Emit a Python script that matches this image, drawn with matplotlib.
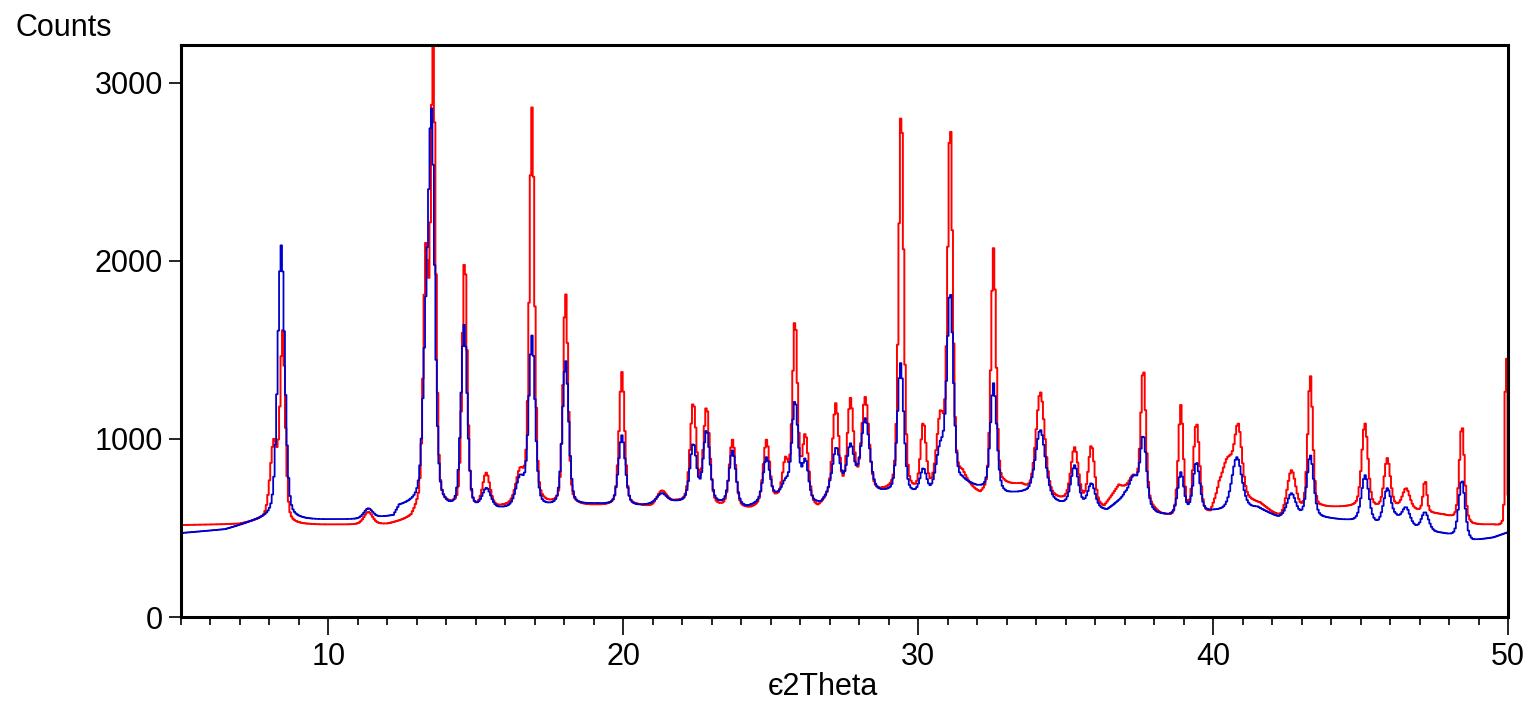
import numpy as np
import matplotlib
matplotlib.use("Agg")
import matplotlib.pyplot as plt

plt.rcParams['font.family'] = ['Liberation Sans', 'DejaVu Sans']

# peaks: position (deg 2theta), top (counts), fwhm (deg)
red_pos = [8.15, 8.45, 11.35, 13.3, 13.55, 14.62, 15.35, 16.5, 16.9, 18.04,
           19.95, 21.3, 22.37, 22.82, 23.7, 24.85, 25.5, 25.82, 26.17, 27.2,
           27.7, 28.2, 29.42, 30.17, 30.75, 31.08, 31.5, 32.55, 34.14, 35.3,
           35.87, 37.3, 37.63, 38.9, 39.43, 40.5, 40.85, 42.65, 43.29, 45.14,
           45.9, 46.54, 47.18, 48.43, 49.93]
red_top = [1000, 1610, 590, 2100, 3250, 2020, 810, 840, 2860, 1820,
           1375, 710, 1205, 1180, 995, 995, 900, 1680, 1030, 1200,
           1230, 1235, 2865, 1095, 1160, 2790, 830, 2070, 1262, 953,
           964, 800, 1400, 1190, 1090, 900, 1085, 824, 1357, 1088,
           892, 723, 768, 1077, 1650]
red_fwhm = [0.3, 0.2, 0.35, 0.2, 0.2, 0.2, 0.3, 0.35, 0.2, 0.2,
            0.22, 0.4, 0.25, 0.25, 0.25, 0.25, 0.25, 0.2, 0.25, 0.25,
            0.25, 0.3, 0.2, 0.22, 0.3, 0.2, 0.35, 0.2, 0.35, 0.3,
            0.25, 0.35, 0.2, 0.2, 0.25, 0.45, 0.3, 0.35, 0.2, 0.25,
            0.25, 0.3, 0.15, 0.2, 0.08]

blue_pos = [8.4, 11.35, 13.3, 13.5, 14.6, 15.36, 16.5, 16.9, 18.04, 19.95,
            21.3, 22.37, 22.82, 23.7, 24.85, 25.5, 25.82, 26.17, 27.22, 27.7,
            28.2, 29.4, 30.17, 30.75, 31.08, 32.55, 34.14, 35.3, 35.87, 37.3,
            37.63, 38.9, 39.43, 40.8, 42.65, 43.29, 45.15, 45.9, 46.54, 47.18,
            48.43]
blue_top = [2086, 610, 1800, 2855, 1640, 725, 800, 1580, 1440, 1020,
            695, 975, 1050, 935, 897, 780, 1217, 890, 953, 975,
            1116, 1425, 836, 990, 1833, 1312, 1050, 852, 751, 796,
            1021, 813, 869, 897, 695, 908, 796, 723, 617, 589,
            768]
blue_fwhm = [0.28, 0.35, 0.25, 0.25, 0.25, 0.35, 0.35, 0.25, 0.25, 0.27,
             0.4, 0.27, 0.27, 0.27, 0.27, 0.3, 0.25, 0.25, 0.3, 0.3,
             0.35, 0.25, 0.27, 0.35, 0.25, 0.25, 0.4, 0.3, 0.3, 0.35,
             0.25, 0.25, 0.27, 0.4, 0.35, 0.27, 0.3, 0.3, 0.3, 0.3,
             0.25]

# background levels
red_bg_x = [5, 7, 7.7, 8.8, 12, 12.8, 13.0, 14.1, 15.0, 16.0, 17.5, 19, 20.5, 21.0,
            21.8, 23.2, 24.3, 25.2, 26.6, 26.9, 28.8, 29.8, 30.4, 31.5, 32.1, 32.9,
            33.5, 33.8, 34.8, 36.3, 36.8, 37.0, 38.2, 38.6, 39.9, 40.2, 41.6, 42.0,
            42.3, 43.7, 44.8, 45.6, 46.2, 47, 47.8, 48.8, 49.5, 50]
red_bg_y = [515, 520, 540, 515, 515, 540, 580, 600, 590, 610, 620, 620, 620, 610,
            640, 610, 600, 650, 600, 650, 690, 680, 690, 750, 670, 730,
            730, 690, 650, 610, 730, 710, 570, 550, 570, 690, 630, 580,
            550, 610, 615, 605, 610, 590, 570, 515, 515, 495]
blue_bg_x = [5, 6.5, 7.5, 8.0, 8.7, 11, 12.2, 12.4, 13, 14.1, 15, 16, 17.5, 19, 20.5,
             21.7, 22, 23.2, 24.2, 25.2, 26.5, 26.7, 27, 29, 29.8, 30.4, 31.5, 32,
             33, 33.6, 34.8, 36.4, 37, 38.1, 38.5, 40, 41.5, 42.2, 43.6, 44.8, 45.6,
             46.2, 47, 47.8, 48.8, 49.5, 50]
blue_bg_y = [470, 490, 535, 550, 540, 545, 560, 615, 630, 590, 590, 600, 610, 630, 620,
             640, 640, 630, 610, 670, 630, 630, 690, 690, 680, 670, 750, 720,
             685, 690, 630, 595, 670, 575, 565, 590, 610, 555, 555, 535, 515,
             550, 485, 465, 425, 445, 475]

two_theta = np.arange(5, 50.0001, 0.05)


def profile(x, p, w, eta=0.35):
    d = (x - p) / (w / 2)
    return eta / (1 + d ** 2) + (1 - eta) * np.exp(-np.log(2) * d ** 2)


def pattern(pos, top, fwhm, bg_x, bg_y):
    pos = np.array(pos)
    # net heights so that each peak top lands on the value
    m = np.array([[profile(pi, pj, wj) for pj, wj in zip(pos, fwhm)] for pi in pos])
    h = np.linalg.solve(m, np.array(top) - np.interp(pos, bg_x, bg_y))
    h = np.clip(h, 0, None)
    y = np.interp(two_theta, bg_x, bg_y)
    for p, hh, w in zip(pos, h, fwhm):
        y = y + hh * profile(two_theta, p, w)
    return y


red = pattern(red_pos, red_top, red_fwhm, red_bg_x, red_bg_y)
blue = pattern(blue_pos, blue_top, blue_fwhm, blue_bg_x, blue_bg_y)

fig = plt.figure(figsize=(15.39, 7.05), dpi=100)
ax = fig.add_axes([0.1176, 0.1248, 0.8624, 0.8112])

ax.plot(two_theta, red, color='#ff0000', lw=1.4, drawstyle='steps-mid')
ax.plot(two_theta, blue, color='#0000cc', lw=1.3, drawstyle='steps-mid')

ax.set_xlim(5, 50)
ax.set_ylim(0, 3210)
ax.set_xticks([10, 20, 30, 40, 50])
ax.set_xticks(np.arange(5, 50, 1), minor=True)
ax.set_yticks([0, 1000, 2000, 3000])
ax.tick_params(axis='x', which='major', length=13, width=1.2, labelsize=22, pad=5)
ax.tick_params(axis='x', which='minor', length=6, width=1.2)
ax.tick_params(axis='y', which='major', length=9, width=1.2, labelsize=22, pad=4)
for s in ax.spines.values():
    s.set_linewidth(2.2)

fig.text(0.01, 0.96, 'Counts', fontsize=22, va='center', ha='left')
fig.text(0.535, 0.026, 'є2Theta', fontsize=22, va='center', ha='center')

fig.savefig('out.png', dpi=100)
